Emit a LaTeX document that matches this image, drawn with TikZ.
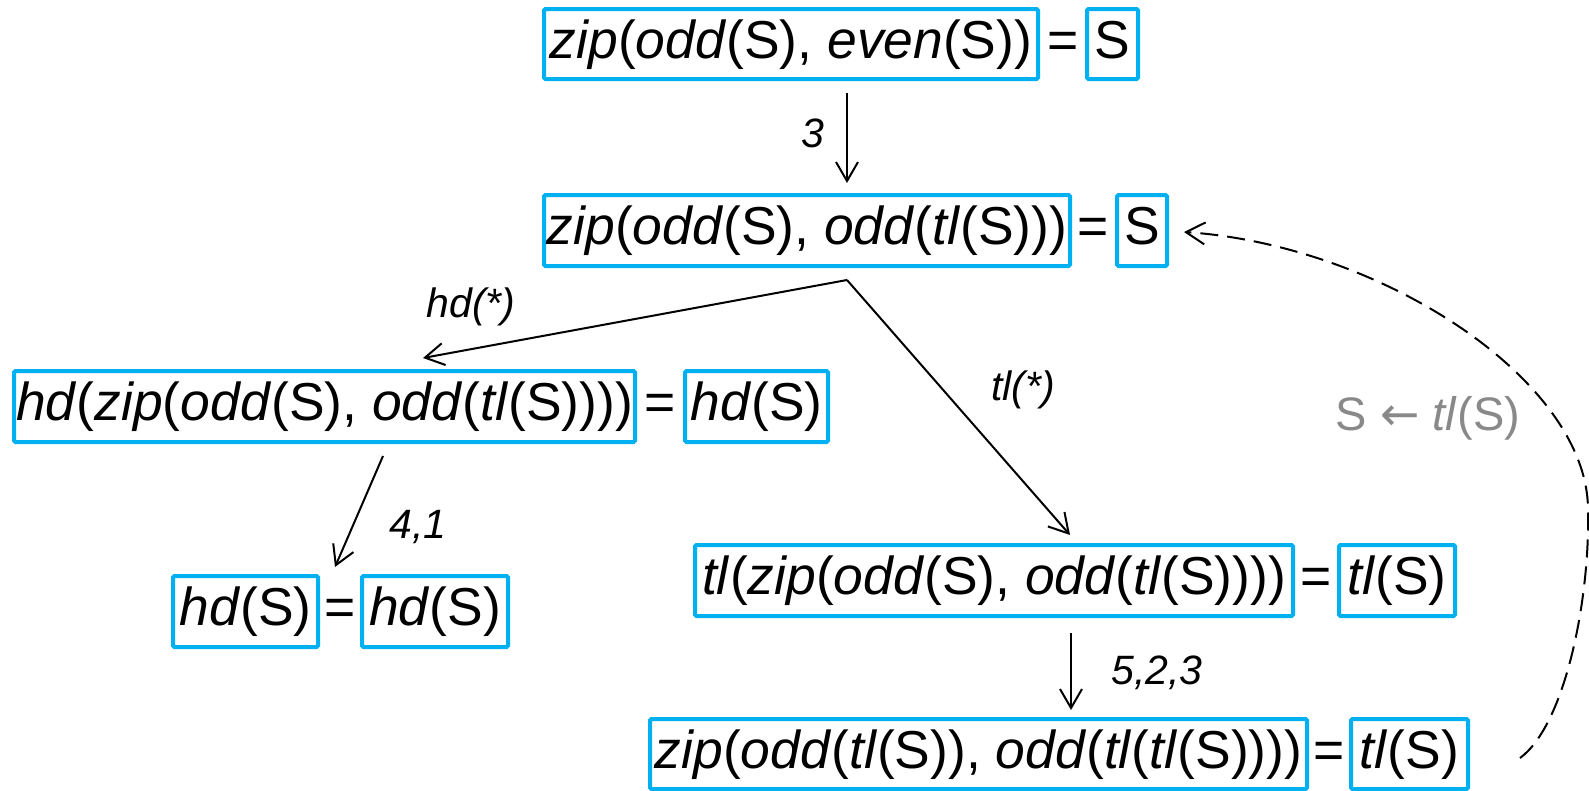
\documentclass[tikz,border=0pt]{standalone}
\usepackage{fontspec}
\setmainfont{Liberation Sans}
\newfontfamily\arrowfont{DejaVu Sans}
\usetikzlibrary{arrows.meta,calc}
\definecolor{boxblue}{RGB}{0,176,240}
\definecolor{lblgray}{RGB}{137,137,137}
\newcommand{\fn}[1]{\textit{#1}}
\begin{document}
\begin{tikzpicture}[x=1pt,y=-1pt,
  font=\fontsize{53.4}{64}\selectfont,
  bx/.style={draw=boxblue, line width=4pt, rounded corners=1.5pt, inner sep=0pt,
    text height=39pt, text depth=11pt},
  eqsign/.style={inner sep=0pt, text height=39pt, text depth=11pt},
  lbl/.style={inner sep=0pt, font=\fontsize{41}{48}\selectfont\itshape},
  glbl/.style={inner sep=0pt, text=lblgray, font=\fontsize{47}{56}\selectfont},
  arr/.style={line width=2pt, -{Straight Barb[length=19pt,width=22pt,line width=2pt]}},
  darr/.style={line width=2pt, dash pattern=on 18pt off 9pt,
    -{Straight Barb[length=19pt,width=22pt,line width=2pt]}}
]
\useasboundingbox (0,0) rectangle (1589,790);

% row 1
\node[bx, minimum width=494pt, minimum height=70pt] (b1) at (791,44)
  {\fn{zip}(\fn{odd}(S), \fn{even}(S))};
\node[eqsign] (eq1) at (1063,44) {=};
\node[bx, minimum width=51pt, minimum height=70pt] (s1) at (1112.5,44) {S};

% row 2
\node[bx, minimum width=526pt, minimum height=71pt] (b2) at (807,230.5)
  {\fn{zip}(\fn{odd}(S), \fn{odd}(\fn{tl}(S)))};
\node[eqsign] (eq2) at (1093,230.5) {=};
\node[bx, minimum width=50pt, minimum height=71pt] (s2) at (1142,230.5) {S};

% row 3 left
\node[bx, minimum width=621pt, minimum height=71pt] (b3) at (324.5,406.5)
  {\fn{hd}(\fn{zip}(\fn{odd}(S), \fn{odd}(\fn{tl}(S))))};
\node[eqsign] (eq3) at (660,406.5) {=};
\node[bx, minimum width=143pt, minimum height=71pt] (s3) at (756.5,406.5) {\fn{hd}(S)};

% row 4 left
\node[bx, minimum width=145pt, minimum height=71pt] (b4) at (245.5,611.5) {\fn{hd}(S)};
\node[eqsign] (eq4) at (340,611.5) {=};
\node[bx, minimum width=146pt, minimum height=71pt] (s4) at (435,611.5) {\fn{hd}(S)};

% row 3 right
\node[bx, minimum width=598pt, minimum height=71pt] (b5) at (994,580.5)
  {\fn{tl}(\fn{zip}(\fn{odd}(S), \fn{odd}(\fn{tl}(S))))};
\node[eqsign] (eq5) at (1316,580.5) {=};
\node[bx, minimum width=116pt, minimum height=71pt] (s5) at (1397,580.5) {\fn{tl}(S)};

% row 4 right
\node[bx, minimum width=657pt, minimum height=70pt] (b6) at (978.5,754)
  {\fn{zip}(\fn{odd}(\fn{tl}(S)), \fn{odd}(\fn{tl}(\fn{tl}(S))))};
\node[eqsign] (eq6) at (1329,754) {=};
\node[bx, minimum width=117pt, minimum height=70pt] (s6) at (1409.5,754) {\fn{tl}(S)};

% connectors
\draw[arr] ($(b1.south)+(56,12)$) -- ($(b2.north)+(40,-10)$);
\coordinate (fk) at ($(b2.south)+(40,12)$);
\draw[arr] (fk) -- ($(b3.north)+(98.5,-11)$);
\draw[arr] (fk) -- ($(b5.north)+(76,-8)$);
\draw[arr] ($(b3.south)+(58.5,12)$) -- ($(b4.north east)+(15,-7)$);
\draw[arr] ($(b5.south)+(77,15)$) -- ($(b6.north)+(92.5,-7)$);
\coordinate (cm) at (1588,510);
\draw[darr] ($(s6.east)+(50,4)$) .. controls (1565,725) and (1590,600) .. (cm)
  .. controls (1588,380) and (1380,245) .. ($(s2.east)+(15,1.5)$);

% labels
\node[lbl] (l3) at (813,133) {3};
\node[lbl] (lhd) at (471,307) {hd(*)};
\node[lbl] (ltl) at (1023,390) {tl(*)};
\node[lbl] (l41) at (418,527) {4,1};
\node[lbl] (l523) at (1157,673) {5,2,3};
\node[glbl] (lS) at (1428,418) {S {\arrowfont ←} \fn{tl}(S)};
\end{tikzpicture}
\end{document}
